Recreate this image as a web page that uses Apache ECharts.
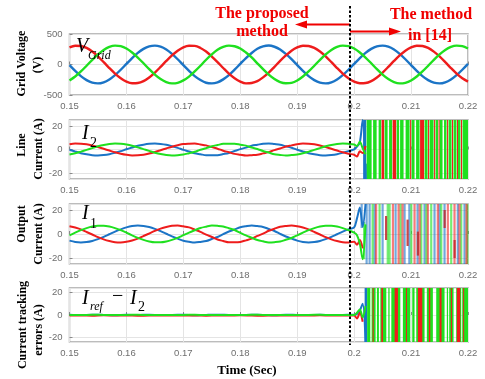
<!DOCTYPE html>
<html>
<head>
<meta charset="utf-8">
<script src="https://cdn.jsdelivr.net/npm/echarts@6/dist/echarts.min.js"></script>
<style>
  html, body { margin: 0; padding: 0; background: #fff; }
  #chart { width: 485px; height: 379px; }
</style>
</head>
<body>
<div id="chart"></div>
<script>
// ---- sample instants (s) ----
const timeFull = [0.150,0.151,0.152,0.153,0.154,0.155,0.156,0.157,0.158,0.159,
                  0.160,0.161,0.162,0.163,0.164,0.165,0.166,0.167,0.168,0.169,
                  0.170,0.171,0.172,0.173,0.174,0.175,0.176,0.177,0.178,0.179,
                  0.180,0.181,0.182,0.183,0.184,0.185,0.186,0.187,0.188,0.189,
                  0.190,0.191,0.192,0.193,0.194,0.195,0.196,0.197,0.198,0.199,
                  0.200,0.201,0.202,0.203,0.204,0.205,0.206,0.207,0.208,0.209,
                  0.210,0.211,0.212,0.213,0.214,0.215,0.216,0.217,0.218,0.219,0.220];
const timeFine = [0.150,0.151,0.152,0.153,0.154,0.155,0.156,0.157,0.158,0.159,
                  0.160,0.161,0.162,0.163,0.164,0.165,0.166,0.167,0.168,0.169,
                  0.170,0.171,0.172,0.173,0.174,0.175,0.176,0.177,0.178,0.179,
                  0.180,0.181,0.182,0.183,0.184,0.185,0.186,0.187,0.188,0.189,
                  0.190,0.191,0.192,0.193,0.194,0.195,0.196,0.197,0.198,0.199,
                  0.200,0.2005,0.2010,0.2015,0.2020];
const timeCoarse = [0.150,0.152,0.154,0.156,0.158,0.160,0.162,0.164,0.166,0.168,
                    0.170,0.172,0.174,0.176,0.178,0.180,0.182,0.184,0.186,0.188,
                    0.190,0.192,0.194,0.196,0.198,0.200,0.2005,0.2010,0.2015,0.2020];

// ---- grid voltage (V) ----
const vRed = [281,308,304,272,212,132,39,-58,-149,-226,-281,-308,-304,-272,-212,-132,-39,58,149,226,
              282,307,305,271,213,131,40,-57,-150,-225,-280,-309,-303,-273,-211,-133,-38,59,148,227,
              281,308,304,272,212,132,39,-58,-149,-226,-281,-307,-304,-272,-212,-132,-39,58,149,226,
              281,308,304,272,211,132,39,-58,-149,-226,-281];
const vBlue = [-10,-105,-190,-256,-298,-310,-292,-245,-174,-86,10,105,190,256,298,310,292,245,174,86,
               -11,-104,-191,-255,-299,-309,-293,-244,-175,-85,11,106,189,257,297,311,291,246,173,87,
               -10,-105,-190,-256,-298,-310,-292,-245,-174,-86,10,105,190,256,298,310,292,245,174,86,
               -10,-105,-190,-256,-298,-310,-292,-245,-174,-86,10];
const vGreen = [-262,-197,-114,-20,77,166,239,288,309,300,262,197,114,20,-77,-166,-239,-288,-309,-300,
                -261,-198,-113,-21,78,165,240,287,310,299,263,196,115,19,-76,-167,-238,-289,-308,-301,
                -262,-197,-114,-20,77,166,239,288,309,300,262,197,114,20,-77,-166,-239,-288,-309,-300,
                -262,-197,-114,-20,77,166,239,288,309,300,262];

// ---- line current I2 (A) ----
const i2Red = [4.5,5.0,4.9,4.4,3.4,2.1,0.6,-0.9,-2.4,-3.6,-4.5,-5.0,-4.9,-4.4,-3.4,-2.1,-0.6,0.9,2.4,3.6,
               4.6,4.9,5.0,4.3,3.5,2.0,0.7,-1.0,-2.3,-3.7,-4.4,-5.1,-4.8,-4.5,-3.3,-2.2,-0.5,0.8,2.5,3.5,
               4.5,5.0,4.9,4.4,3.4,2.1,0.6,-0.9,-2.4,-3.6,-4.5, -6.0,-1.5,-3.0,3.0];
const i2Blue = [-0.2,-1.7,-3.1,-4.1,-4.8,-5.0,-4.7,-4.0,-2.8,-1.4,0.2,1.7,3.1,4.1,4.8,5.0,4.7,4.0,2.8,1.4,
                -0.3,-1.6,-3.2,-4.0,-4.9,-4.9,-4.8,-3.9,-2.9,-1.3,0.3,1.6,3.2,4.0,4.9,5.1,4.6,4.1,2.7,1.5,
                -0.2,-1.7,-3.1,-4.1,-4.8,-5.0,-4.7,-4.0,-2.8,-1.4,0.2, 2.5,6.0,25,-25];
const i2Green = [-4.2,-3.2,-1.8,-0.3,1.2,2.7,3.9,4.7,5.0,4.8,4.2,3.2,1.8,0.3,-1.2,-2.7,-3.9,-4.7,-5.0,-4.8,
                 -4.3,-3.1,-1.9,-0.2,1.1,2.8,3.8,4.8,4.9,4.9,4.1,3.3,1.7,0.4,-1.3,-2.6,-4.0,-4.6,-5.1,-4.7,
                 -4.2,-3.2,-1.8,-0.3,1.2,2.7,3.9,4.7,5.0,4.8,4.2, 3.0,6.5,1.0,-4.0];

// ---- output current I1 (A) ----
const i1Red = [6.5,5.4,3.8,1.7,-0.4,-2.6,-4.5,-5.9,-6.8,-7.0,-6.5,-5.4,-3.8,-1.7,0.4,2.6,4.5,5.9,6.8,7.0,
               6.4,5.5,3.7,1.8,-0.5,-2.5,-4.6,-5.8,-6.9,-6.9,-6.6,-5.3,-3.9,-1.6,0.3,2.7,4.4,6.0,6.7,7.1,
               6.5,5.4,3.8,1.7,-0.4,-2.6,-4.5,-5.9,-6.8,-7.0,-6.5, -9.0,-5.0,-12.0,null];
const i1Blue = [-5.5,-6.6,-7.0,-6.7,-5.8,-4.3,-2.4,-0.2,2.0,3.9,5.5,6.6,7.0,6.7,5.8,4.3,2.4,0.2,-2.0,-3.9,
                -5.6,-6.5,-7.1,-6.6,-5.9,-4.2,-2.5,-0.1,2.1,3.8,5.6,6.5,7.1,6.6,5.9,4.2,2.5,0.1,-2.1,-3.8,
                -5.5,-6.6,-7.0,-6.7,-5.8,-4.3,-2.4,-0.2,2.0,3.9,5.5, 13,22,6,25];
const i1Green = [-1.1,1.1,3.2,4.9,6.2,6.9,6.9,6.2,4.9,3.2,1.1,-1.1,-3.2,-4.9,-6.2,-6.9,-6.9,-6.2,-4.9,-3.2,
                 -1.0,1.2,3.1,5.0,6.1,7.0,6.8,6.3,4.8,3.3,1.0,-1.2,-3.1,-5.0,-6.1,-7.0,-6.8,-6.3,-4.8,-3.3,
                 -1.1,1.1,3.2,4.9,6.2,6.9,6.9,6.2,4.9,3.2,1.1, -1.0,-8.0,-21,8];

// ---- tracking error Iref - I2 (A) ----
const eRed   = [-0.5,-0.4,-0.6,-0.3,-0.5,-0.4,-0.6,-0.5,-0.3,-0.4,-0.5,-0.4,-0.6,-0.4,-0.5,-0.3,-0.5,-0.6,-0.4,-0.5,
                -0.4,-0.5,-0.3,-0.5,-0.4,-0.5, -3,2,-6,null];
const eBlue  = [0.2,-0.1,0.3,0.1,-0.2,0.2,0.0,0.3,-0.1,0.1,0.2,-0.2,0.1,0.3,0.0,-0.1,0.2,0.1,-0.2,0.3,
                0.1,0.0,0.2,-0.1,0.1,0.2, 1,4,10,-24];
const eGreen = [0.1,0.0,0.2,0.1,0.0,0.1,0.2,0.0,0.1,0.0,0.1,0.2,0.0,0.1,0.1,0.0,0.2,0.1,0.0,0.1,
                0.0,0.1,0.2,0.0,0.1,0.0, 2,5,-2,8];

// ---- unstable interval: saturated swings as [tStart, tEnd, low, high] ----
const i2BandBlue  = [[0.20158,0.20211,-25,25],[0.20211,0.20272,-25,-12]];
const i2BandGreen = [[0.20219,0.20307,-25,25],[0.20333,0.20395,-25,25],[0.20430,0.20474,-25,25],[0.20535,0.20588,-25,25],
                     [0.20614,0.20667,-25,25],[0.20746,0.20790,-25,25],[0.20807,0.20868,-25,25],[0.20904,0.20974,-25,25],
                     [0.21009,0.21061,-25,25],[0.21088,0.21149,-25,25],[0.21237,0.21290,-25,25],[0.21325,0.21395,-25,25],
                     [0.21430,0.21474,-25,25],[0.21500,0.21553,-25,25],[0.21579,0.21623,-25,25],[0.21658,0.21711,-25,25],
                     [0.21746,0.21798,-25,25],[0.21825,0.21868,-25,25],[0.21904,0.22000,-25,25]];
const i2BandRed   = [[0.20482,0.20526,-25,25],[0.20676,0.20737,-25,25],[0.20983,0.21000,-25,25],[0.21158,0.21228,-25,25],
                     [0.21298,0.21316,-25,25],[0.21404,0.21421,-25,25],[0.21483,0.21500,-25,25],[0.21632,0.21649,-25,25],
                     [0.21719,0.21737,-25,25],[0.21807,0.21816,-25,25],[0.21877,0.21895,-25,25]];

// output current: thin traces as [t, low, high]
const i1TraceBlue  = [[0.20132,5,25],[0.20219,-25,25],[0.20272,-25,25],[0.20360,-25,25],[0.20500,-25,25],[0.20728,-25,25],
                      [0.20886,-25,25],[0.20970,-25,25],[0.21114,-25,25],[0.21237,-25,25],[0.21412,-25,25],[0.21500,-25,25],
                      [0.21588,-25,25],[0.21821,-25,25],[0.21939,-25,25]];
const i1TraceGreen = [[0.20175,-21,10],[0.20325,-25,25],[0.20447,-25,25],[0.20590,-25,25],[0.20623,-25,25],[0.20816,-25,25],
                      [0.21004,-25,25],[0.21179,-25,25],[0.21270,-25,25],[0.21354,-25,25],[0.21530,-25,25],[0.21705,-25,25],
                      [0.21881,-25,25],[0.21990,-25,25]];
const i1TraceRed   = [[0.20386,-25,25],[0.20681,-25,25],[0.20781,-25,25],[0.20850,-25,25],[0.21061,-25,25],[0.21150,-25,25],
                      [0.21295,-25,25],[0.21470,-25,25],[0.21646,-25,25],[0.21763,-25,25],[0.21850,-25,25],[0.21974,-25,25]];
const i1TraceDark  = [[0.20561,-5,15],[0.20939,-10,12],[0.21120,-18,2],[0.21590,5,20],[0.21765,-20,-5]];

const eBandBlue  = [[0.20184,0.20228,-24,24]];
const eBandGreen = [[0.20228,0.20284,-24,24],[0.20307,0.20377,-24,24],[0.20400,0.20435,-24,24],[0.20460,0.20565,-24,24],
                    [0.20600,0.20623,-24,24],[0.20653,0.20811,-24,24],[0.20856,0.20986,-24,24],[0.21021,0.21061,-24,24],
                    [0.21091,0.21237,-24,24],[0.21277,0.21383,-24,24],[0.21442,0.21588,-24,24],[0.21628,0.21650,-24,24],
                    [0.21670,0.21746,-24,24],[0.21793,0.21881,-24,24],[0.21898,0.22000,-24,24]];
const eBandRed   = [[0.20325,0.20340,-24,24],[0.20478,0.20506,-24,24],[0.20711,0.20769,-24,24],[0.20910,0.20925,-24,24],
                    [0.21120,0.21197,-24,24],[0.21312,0.21337,-24,24],[0.21500,0.21535,-24,24],[0.21700,0.21715,-24,24],
                    [0.21804,0.21863,-24,24],[0.21915,0.21930,-24,24]];

// ---- axis ticks ----
const timeTicks = { min: 0.15, max: 0.22, step: 0.01 };
const voltTicks = { min: -500, max: 500, step: 500 };
const ampLimits = [25, 25, 24];
const ampStep = 20;

// ---- styling ----
const RED = '#ee1c1c', GREEN = '#1fe01f', BLUE = '#1b74c6';
const SERIF = '"Liberation Serif", "Times New Roman", serif';
const SANS = '"Liberation Sans", Arial, sans-serif';

const gridBoxes = [
  { top: 34,  height: 61 },
  { top: 120, height: 59 },
  { top: 204, height: 60 },
  { top: 288, height: 54 }
];

const chart = echarts.init(document.getElementById('chart'), null, { renderer: 'canvas' });

const grid = gridBoxes.map(b => ({
  left: 69.5, right: 17, top: b.top, height: b.height,
  show: true, borderColor: '#a6a6a6', borderWidth: 1.5, backgroundColor: '#fff'
}));

const xAxis = gridBoxes.map((b, i) => ({
  type: 'value', gridIndex: i,
  min: timeTicks.min, max: timeTicks.max, interval: timeTicks.step,
  axisLine: { show: false },
  axisTick: { show: true, inside: true, length: 3, lineStyle: { color: '#8a8a8a' } },
  axisLabel: { margin: 6, fontSize: 9.5, color: '#6e6e6e', fontFamily: SANS },
  splitLine: { show: true, lineStyle: { color: '#e4e4e4', width: 1 } }
}));

const yAxis = [
  {
    type: 'value', gridIndex: 0, min: voltTicks.min, max: voltTicks.max, interval: voltTicks.step,
    axisLine: { show: false },
    axisTick: { show: true, inside: true, length: 3, lineStyle: { color: '#8a8a8a' } },
    axisLabel: { margin: 7, fontSize: 9.5, color: '#6e6e6e', fontFamily: SANS },
    splitLine: { show: true, lineStyle: { color: '#e4e4e4' } }
  }
].concat(ampLimits.map((lim, k) => ({
  type: 'value', gridIndex: k + 1, min: -lim, max: lim,
  minInterval: ampStep, maxInterval: ampStep, splitNumber: 2,
  axisLine: { show: false },
  axisTick: { show: true, inside: true, length: 3, lineStyle: { color: '#8a8a8a' } },
  axisLabel: { margin: 7, fontSize: 9.5, color: '#6e6e6e', fontFamily: SANS,
               showMinLabel: false, showMaxLabel: false },
  splitLine: { show: true, lineStyle: { color: '#e4e4e4' } }
})));

function wave(idx, times, values, color, width) {
  return {
    type: 'line', xAxisIndex: idx, yAxisIndex: idx,
    data: times.map((t, i) => [t, values[i]]),
    showSymbol: false, smooth: 0.3, clip: true, silent: true, animation: false,
    lineStyle: { color, width }
  };
}

function bands(idx, data, color, opacity) {
  return {
    type: 'custom', xAxisIndex: idx, yAxisIndex: idx, data, clip: true, silent: true, animation: false,
    encode: { x: [0, 1], y: [2, 3] },
    renderItem: (params, api) => {
      const a = api.coord([api.value(0), api.value(3)]);
      const b = api.coord([api.value(1), api.value(2)]);
      return { type: 'rect',
               shape: { x: a[0], y: a[1], width: Math.max(b[0] - a[0], 1), height: b[1] - a[1] },
               style: { fill: color, opacity } };
    }
  };
}

function traces(idx, data, color, opacity) {
  return {
    type: 'custom', xAxisIndex: idx, yAxisIndex: idx, data, clip: true, silent: true, animation: false,
    encode: { x: 0, y: [1, 2] },
    renderItem: (params, api) => {
      const a = api.coord([api.value(0), api.value(2)]);
      const b = api.coord([api.value(0), api.value(1)]);
      return { type: 'rect',
               shape: { x: a[0] - 1.1, y: a[1], width: 2.2, height: b[1] - a[1] },
               style: { fill: color, opacity } };
    }
  };
}

const series = [
  wave(0, timeFull, vBlue, BLUE, 2.4),
  wave(0, timeFull, vRed, RED, 2.4),
  wave(0, timeFull, vGreen, GREEN, 2.4),

  wave(1, timeFine, i2Blue, BLUE, 2),
  wave(1, timeFine, i2Red, RED, 2),
  wave(1, timeFine, i2Green, GREEN, 2),
  bands(1, i2BandBlue, BLUE, 1),
  bands(1, i2BandGreen, GREEN, 1),
  bands(1, i2BandRed, RED, 1),

  wave(2, timeFine, i1Blue, BLUE, 2),
  wave(2, timeFine, i1Red, RED, 2),
  wave(2, timeFine, i1Green, GREEN, 2),
  traces(2, i1TraceBlue, BLUE, 0.62),
  traces(2, i1TraceGreen, GREEN, 0.62),
  traces(2, i1TraceRed, RED, 0.58),
  traces(2, i1TraceDark, '#c0282a', 0.85),

  wave(3, timeCoarse, eBlue, BLUE, 2),
  wave(3, timeCoarse, eRed, RED, 2),
  wave(3, timeCoarse, eGreen, GREEN, 2),
  bands(3, eBandBlue, BLUE, 1),
  bands(3, eBandGreen, GREEN, 1),
  bands(3, eBandRed, RED, 1)
];

// ---- text and annotation elements ----
function sideTitle(text, x, y) {
  return { type: 'text', x, y, rotation: Math.PI / 2, z: 100,
           style: { text, font: 'bold 12px ' + SERIF, fill: '#000',
                    align: 'center', verticalAlign: 'middle', textAlign: 'center', textVerticalAlign: 'middle' } };
}
function italic(text, x, y, size) {
  return { type: 'text', x, y, z: 100,
           style: { text, font: 'italic ' + size + 'px ' + SERIF, fill: '#000',
                    align: 'left', verticalAlign: 'bottom', textAlign: 'left', textVerticalAlign: 'bottom' } };
}
function plain(text, x, y, size) {
  return { type: 'text', x, y, z: 100,
           style: { text, font: size + 'px ' + SERIF, fill: '#000',
                    align: 'left', verticalAlign: 'bottom', textAlign: 'left', textVerticalAlign: 'bottom' } };
}
function note(text, x, y) {
  return { type: 'text', x, y, z: 100,
           style: { text, font: 'bold 16px ' + SERIF, fill: '#f00000',
                    align: 'center', verticalAlign: 'middle', textAlign: 'center', textVerticalAlign: 'middle' } };
}

const graphic = [
  sideTitle('Grid Voltage', 21.5, 63.5),
  sideTitle('(V)', 37.5, 65),
  sideTitle('Line', 22, 145),
  sideTitle('Current (A)', 38.5, 149),
  sideTitle('Output', 22, 224),
  sideTitle('Current (A)', 38.5, 234),
  sideTitle('Current tracking', 23, 325),
  sideTitle('errors (A)', 39, 330),
  { type: 'text', x: 247, y: 371, z: 100,
    style: { text: 'Time (Sec)', font: 'bold 13px ' + SERIF, fill: '#000',
             align: 'center', verticalAlign: 'middle', textAlign: 'center', textVerticalAlign: 'middle' } },

  italic('V', 76, 57, 20), italic('Grid', 88, 62, 12),
  italic('I', 82, 144, 20), plain('2', 90, 150, 14),
  italic('I', 82, 224, 20), plain('1', 90, 231, 14),
  italic('I', 82, 309, 20), italic('ref', 90, 313, 12),
  plain('\u2212', 112, 307, 20),
  italic('I', 130, 309, 20), plain('2', 138, 314, 14),

  note('The proposed', 262, 13.5),
  note('method', 262, 32),
  note('The method', 431, 15),
  note('in [14]', 430, 35.5),

  { type: 'line', z: 100, shape: { x1: 350, y1: 24.5, x2: 305, y2: 24.5 },
    style: { stroke: '#f00000', lineWidth: 2 } },
  { type: 'polygon', z: 100, shape: { points: [[295, 24.5], [307, 20.5], [307, 28.5]] },
    style: { fill: '#f00000' } },
  { type: 'line', z: 100, shape: { x1: 350, y1: 31.5, x2: 390, y2: 31.5 },
    style: { stroke: '#f00000', lineWidth: 2 } },
  { type: 'polygon', z: 100, shape: { points: [[401, 31.5], [389, 27.5], [389, 35.5]] },
    style: { fill: '#f00000' } },

  { type: 'line', z: 101, shape: { x1: 350, y1: 6, x2: 350, y2: 345 },
    style: { stroke: '#000', lineWidth: 2, lineDash: [2.5, 2] } }
];

chart.setOption({
  animation: false,
  backgroundColor: '#fff',
  grid, xAxis, yAxis, series, graphic
});
</script>
</body>
</html>
